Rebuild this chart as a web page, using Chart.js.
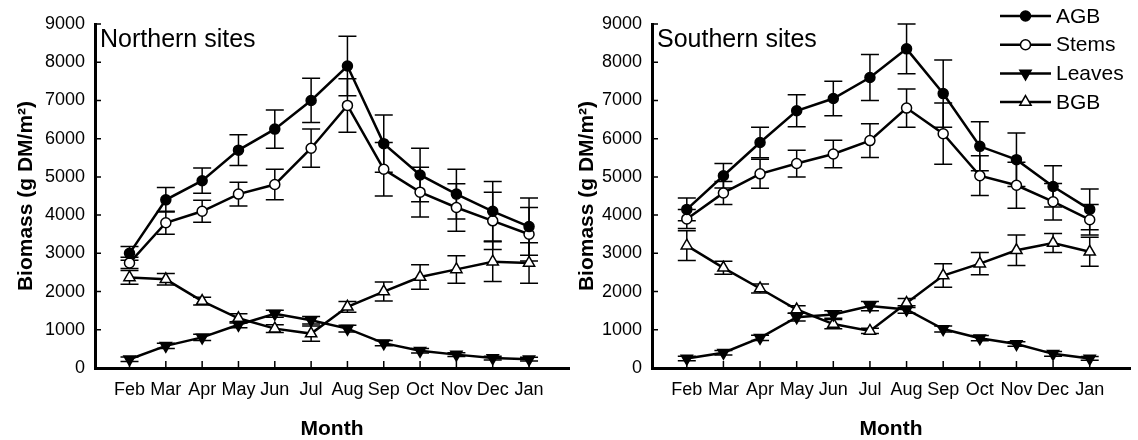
<!DOCTYPE html>
<html>
<head>
<meta charset="utf-8">
<script src="https://cdn.jsdelivr.net/npm/chart.js@4.4.1/dist/chart.umd.min.js"></script>
<style>
  body { margin: 0; background: #fff; }
  #wrap { position: relative; width: 1138px; height: 440px; }
  #northChart { position: absolute; left: 0; top: 0; }
  #southChart { position: absolute; left: 577px; top: 0; }
</style>
</head>
<body>
<div id="wrap">
  <canvas id="northChart" width="577" height="440"></canvas>
  <canvas id="southChart" width="561" height="440"></canvas>
</div>
<script>
const months = ['Feb', 'Mar', 'Apr', 'May', 'Jun', 'Jul', 'Aug', 'Sep', 'Oct', 'Nov', 'Dec', 'Jan'];
const yTicks = [0, 1000, 2000, 3000, 4000, 5000, 6000, 7000, 8000, 9000];
const seriesNames = ['AGB', 'Stems', 'Leaves', 'BGB'];

// Northern sites
const northAGB = [3000, 4400, 4900, 5700, 6250, 7000, 7900, 5870, 5050, 4550, 4100, 3700];
const northAGBErr = [180, 320, 330, 400, 500, 580, 780, 750, 700, 650, 780, 750];
const northStems = [2750, 3800, 4100, 4550, 4800, 5750, 6870, 5200, 4600, 4200, 3850, 3500];
const northStemsErr = [150, 300, 290, 310, 400, 500, 700, 700, 650, 620, 750, 700];
const northLeaves = [230, 580, 800, 1130, 1420, 1250, 1030, 650, 450, 350, 260, 230];
const northLeavesErr = [60, 70, 80, 80, 90, 100, 90, 70, 60, 50, 50, 50];
const northBGB = [2370, 2320, 1750, 1300, 1030, 900, 1600, 2000, 2380, 2580, 2780, 2750];
const northBGBErr = [180, 150, 100, 120, 100, 200, 140, 250, 320, 360, 520, 530];

// Southern sites
const southAGB = [4150, 5030, 5900, 6730, 7050, 7600, 8350, 7180, 5800, 5450, 4750, 4150];
const southAGBErr = [300, 320, 400, 420, 450, 600, 650, 880, 640, 700, 540, 530];
const southStems = [3900, 4580, 5080, 5350, 5600, 5950, 6800, 6130, 5030, 4780, 4350, 3880];
const southStemsErr = [250, 300, 380, 350, 360, 440, 500, 800, 520, 600, 480, 400];
const southLeaves = [250, 400, 790, 1330, 1400, 1620, 1530, 1020, 780, 630, 370, 250];
const southLeavesErr = [60, 60, 70, 100, 100, 120, 100, 80, 70, 60, 60, 50];
const southBGB = [3200, 2620, 2080, 1530, 1150, 970, 1700, 2420, 2730, 3080, 3270, 3040];
const southBGBErr = [390, 170, 120, 100, 120, 70, 120, 310, 290, 400, 250, 380];

const FONT = '"Liberation Sans", Arial, sans-serif';

const markerStyles = [
  { pointStyle: 'circle', radius: 5, fill: '#000', rotation: 0 },
  { pointStyle: 'circle', radius: 5, fill: '#fff', rotation: 0 },
  { pointStyle: 'triangle', radius: 6.5, fill: '#000', rotation: 180 },
  { pointStyle: 'triangle', radius: 6.5, fill: '#fff', rotation: 0 }
];

function makeDataset(i, values, errors) {
  const m = markerStyles[i];
  return {
    label: seriesNames[i],
    data: values.map((v, k) => ({ x: k, y: v })),
    errors: errors,
    borderColor: '#000',
    borderWidth: 2.5,
    pointStyle: m.pointStyle,
    pointRotation: m.rotation,
    pointRadius: m.radius,
    pointBackgroundColor: m.fill,
    pointBorderColor: '#000',
    pointBorderWidth: 1.5,
    tension: 0
  };
}

const errorBars = {
  id: 'errorBars',
  beforeDatasetsDraw(chart) {
    const ctx = chart.ctx, xs = chart.scales.x, ys = chart.scales.y;
    const a = chart.chartArea;
    ctx.save();
    ctx.strokeStyle = '#000';
    // inner tick marks
    ctx.lineWidth = 1.5;
    ctx.beginPath();
    months.forEach((m, i) => {
      const px = xs.getPixelForValue(i);
      ctx.moveTo(px, a.bottom);
      ctx.lineTo(px, a.bottom - 7);
    });
    yTicks.forEach(v => {
      const py = ys.getPixelForValue(v);
      ctx.moveTo(a.left, py);
      ctx.lineTo(a.left + 6, py);
    });
    ctx.stroke();
    // error bars
    chart.data.datasets.forEach(ds => {
      ds.errors.forEach((e, i) => {
        const px = xs.getPixelForValue(i);
        const hi = ys.getPixelForValue(ds.data[i].y + e);
        const lo = ys.getPixelForValue(ds.data[i].y - e);
        ctx.beginPath();
        ctx.moveTo(px, hi); ctx.lineTo(px, lo);
        ctx.moveTo(px - 9, hi); ctx.lineTo(px + 9, hi);
        ctx.moveTo(px - 9, lo); ctx.lineTo(px + 9, lo);
        ctx.stroke();
      });
    });
    ctx.restore();
  }
};

const panelText = {
  id: 'panelText',
  afterDraw(chart, args, opts) {
    const ctx = chart.ctx, a = chart.chartArea;
    ctx.save();
    ctx.fillStyle = '#000';
    ctx.font = '25px ' + FONT;
    ctx.textBaseline = 'alphabetic';
    ctx.textAlign = 'left';
    ctx.fillText(opts.text, a.left + 5, a.top + 23);
    if (opts.legend) {
      ctx.font = '21px ' + FONT;
      ctx.textBaseline = 'middle';
      seriesNames.forEach((name, i) => {
        const m = markerStyles[i];
        const ry = 16 + i * 28.7;
        const x0 = a.right - 130, x1 = a.right - 79, xm = (x0 + x1) / 2;
        ctx.strokeStyle = '#000';
        ctx.lineWidth = 2.5;
        ctx.beginPath();
        ctx.moveTo(x0, ry); ctx.lineTo(x1, ry);
        ctx.stroke();
        ctx.fillStyle = m.fill;
        ctx.lineWidth = 1.5;
        Chart.helpers.drawPoint(ctx, {
          pointStyle: m.pointStyle, rotation: m.rotation,
          radius: m.radius, borderWidth: 1.5
        }, xm, ry);
        ctx.fillStyle = '#000';
        ctx.fillText(name, a.right - 74, ry + 1);
      });
    }
    ctx.restore();
  }
};

function makeChart(id, title, datasets, axisWidth, titlePad, rightPad, legend) {
  return new Chart(document.getElementById(id), {
    type: 'line',
    data: { datasets: datasets },
    plugins: [errorBars, panelText],
    options: {
      responsive: false,
      animation: false,
      layout: { padding: { top: 24, right: rightPad, bottom: 0, left: 0 } },
      plugins: {
        legend: { display: false },
        tooltip: { enabled: false },
        panelText: { text: title, legend: legend }
      },
      scales: {
        x: {
          type: 'linear',
          min: -0.95,
          max: 12.1,
          afterBuildTicks: s => { s.ticks = months.map((m, i) => ({ value: i })); },
          afterFit: s => { s.height = 72; },
          grid: { display: false, drawTicks: false },
          border: { display: true, width: 3, color: '#000' },
          ticks: {
            callback: v => months[v],
            autoSkip: false,
            maxRotation: 0,
            padding: 11,
            color: '#000',
            font: { family: FONT, size: 18 }
          },
          title: {
            display: true,
            text: 'Month',
            color: '#000',
            padding: { top: 0, bottom: 0 },
            font: { family: FONT, size: 21, weight: 'bold', lineHeight: 1 }
          }
        },
        y: {
          min: 0,
          max: 9000,
          afterBuildTicks: s => { s.ticks = yTicks.map(v => ({ value: v })); },
          afterFit: s => { s.width = axisWidth; },
          grid: { display: false, drawTicks: false },
          border: { display: true, width: 3, color: '#000' },
          ticks: {
            callback: v => String(v),
            padding: 10,
            color: '#000',
            font: { family: FONT, size: 18 }
          },
          title: {
            display: true,
            text: 'Biomass (g DM/m²)',
            color: '#000',
            padding: { top: titlePad, bottom: 0 },
            font: { family: FONT, size: 21, weight: 'bold', lineHeight: 1 }
          }
        }
      }
    }
  });
}

makeChart('northChart', 'Northern sites', [
  makeDataset(0, northAGB, northAGBErr),
  makeDataset(1, northStems, northStemsErr),
  makeDataset(2, northLeaves, northLeavesErr),
  makeDataset(3, northBGB, northBGBErr)
], 95, 16, 2, false);

makeChart('southChart', 'Southern sites', [
  makeDataset(0, southAGB, southAGBErr),
  makeDataset(1, southStems, southStemsErr),
  makeDataset(2, southLeaves, southLeavesErr),
  makeDataset(3, southBGB, southBGBErr)
], 75, 0, 6, true);
</script>
</body>
</html>
